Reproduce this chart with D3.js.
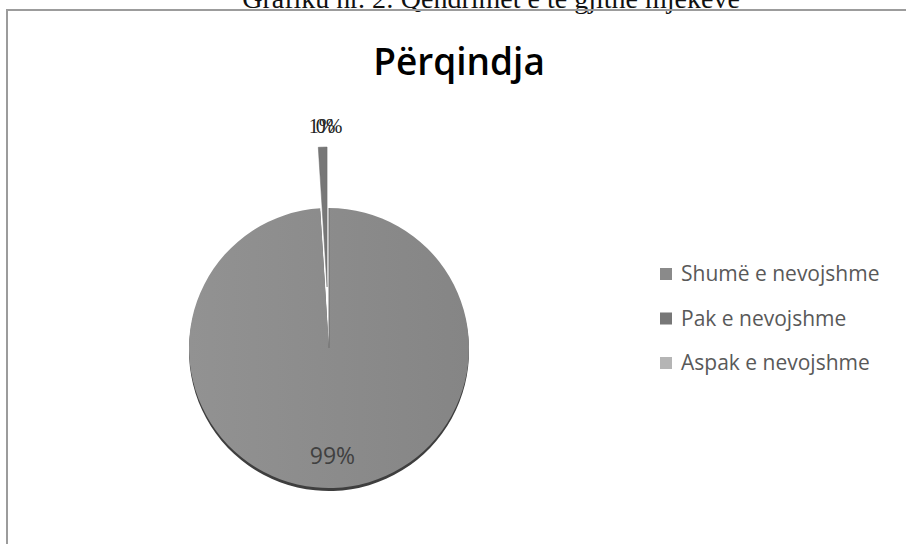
<!DOCTYPE html>
<html>
<head>
<meta charset="utf-8">
<script src="https://cdn.jsdelivr.net/npm/d3@7"></script>
<style>
  body { margin: 0; background: #fff; }
  svg { display: block; }
</style>
</head>
<body>
<div id="chart"></div>
<script>
// chart data
var categories = ["Shumë e nevojshme", "Pak e nevojshme", "Aspak e nevojshme"];
var values = [99, 1, 0];
var percentLabels = ["99%", "1%", "0%"];
var colors = ["#8a8a8a", "#777777", "#b5b5b5"];
var exploded = [false, true, false];

var width = 906, height = 544;
var cx = 329, cy = 348, radius = 140, explode = 61;

var svg = d3.select("#chart")
  .append("svg")
    .attr("width", width)
    .attr("height", height);

// caption above the chart frame (cut by the crop)
svg.append("text")
  .attr("x", 491)
  .attr("y", 8)
  .attr("text-anchor", "middle")
  .style("font-family", "'Liberation Serif', 'DejaVu Serif', serif")
  .style("font-size", "28px")
  .style("fill", "#111")
  .text("Grafiku nr. 2: Qëndrimet e të gjithë mjekëve");

// chart frame
svg.append("rect")
  .attr("x", 7)
  .attr("y", 10)
  .attr("width", width + 20)
  .attr("height", height + 20)
  .attr("fill", "none")
  .attr("stroke", "#9c9c9c")
  .attr("stroke-width", 2);

// title
svg.append("text")
  .attr("x", 459)
  .attr("y", 75)
  .attr("text-anchor", "middle")
  .style("font-family", "'Open Sans', sans-serif")
  .style("font-size", "37px")
  .style("font-weight", 600)
  .style("fill", "#000")
  .text("Përqindja");

var defs = svg.append("defs");
var grad = defs.append("linearGradient")
  .attr("id", "mainGrad")
  .attr("x1", "0%").attr("y1", "0%")
  .attr("x2", "100%").attr("y2", "0%");
grad.append("stop").attr("offset", "0%").attr("stop-color", "#929292");
grad.append("stop").attr("offset", "100%").attr("stop-color", "#858585");

var pie = d3.pie().sort(null).value(function(d) { return d; });
var arcs = pie(values);

var arc = d3.arc().innerRadius(0).outerRadius(radius);
var labelInside = d3.arc().innerRadius(108).outerRadius(108);
var labelOutside = d3.arc().innerRadius(222).outerRadius(222);

var g = svg.append("g")
  .attr("transform", "translate(" + cx + "," + cy + ")");

// dark rim at the bottom (3d edge)
g.append("path")
  .attr("d", arc(arcs[0]))
  .attr("transform", "translate(0,3)")
  .attr("fill", "#3e3e3e");

function offset(d, i) {
  if (!exploded[i]) return "translate(0,0)";
  var a = (d.startAngle + d.endAngle) / 2;
  return "translate(" + (Math.sin(a) * explode) + "," + (-Math.cos(a) * explode) + ")";
}

g.selectAll("path.slice")
  .data(arcs)
  .enter().append("path")
    .attr("class", "slice")
    .attr("d", arc)
    .attr("transform", offset)
    .attr("fill", function(d, i) { return i === 0 ? "url(#mainGrad)" : colors[i]; })
    .attr("stroke", function(d, i) { return i === 0 ? "none" : "#6a6a6a"; })
    .attr("stroke-width", 0.5);

// percent labels
g.selectAll("text.pct")
  .data(arcs)
  .enter().append("text")
    .attr("class", "pct")
    .attr("transform", function(d, i) {
      var c = i === 0 ? labelInside.centroid(d) : labelOutside.centroid(d);
      return "translate(" + c[0] + "," + c[1] + ")";
    })
    .attr("dy", "0.35em")
    .attr("text-anchor", "middle")
    .style("font-family", function(d, i) { return i === 0 ? "'Open Sans', sans-serif" : "'Liberation Serif', serif"; })
    .style("font-size", function(d, i) { return i === 0 ? "23px" : "20px"; })
    .style("fill", function(d, i) { return i === 0 ? "#404040" : "#222"; })
    .text(function(d, i) { return percentLabels[i]; });

// legend
var legend = svg.append("g")
  .attr("transform", "translate(660,274)");

var rows = legend.selectAll("g")
  .data(categories)
  .enter().append("g")
    .attr("transform", function(d, i) { return "translate(0," + (i * 44.5) + ")"; });

rows.append("rect")
  .attr("x", 0)
  .attr("y", -6)
  .attr("width", 12)
  .attr("height", 12)
  .attr("fill", function(d, i) { return colors[i]; });

rows.append("text")
  .attr("x", 21)
  .attr("y", 0)
  .attr("dy", "0.35em")
  .style("font-family", "'Open Sans', sans-serif")
  .style("font-size", "21px")
  .style("fill", "#595959")
  .text(function(d) { return d; });
</script>
</body>
</html>
